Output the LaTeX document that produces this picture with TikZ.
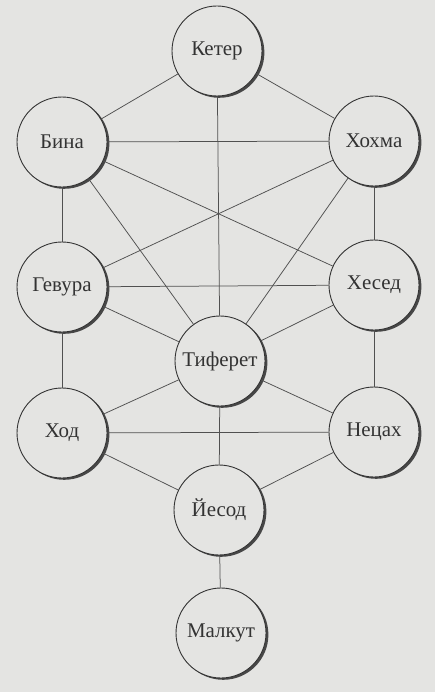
\documentclass[tikz,border=0pt]{standalone}
\usepackage{fontspec}
\setmainfont{Liberation Serif}
\definecolor{bg}{HTML}{E4E4E2}
\definecolor{ink}{HTML}{333333}
\definecolor{edgec}{HTML}{505050}
\tikzset{
  sef/.style={circle, draw=ink, line width=0.9bp, fill=bg, minimum size=90bp, inner sep=0pt, text=ink, font=\fontsize{21}{24}\selectfont},
  shade3d/.style={fill=ink!90},
  edge/.style={draw=edgec, line width=0.75bp}
}
\begin{document}
\begin{tikzpicture}[x=1bp,y=-1bp]
\fill[bg] (0,0) rectangle (435,692);
\useasboundingbox (0,0) rectangle (435,692);
\foreach \n/\x/\y/\t in {keter/217/51/Кетер, bina/62/142/Бина, hokhma/374/141/Хохма,
  gevura/62/287/Гевура, hesed/374/285/Хесед, tiferet/220/361/Тиферет,
  hod/62/433/Ход, netzah/374/432/Нецах, yesod/219/510/Йесод, malkut/221/633/Малкут}{
  \fill[shade3d] (\x+2.2,\y+1.6) circle[radius=45.2bp];
  \node[sef] (\n) at (\x,\y) {\t};
}
\draw[edge] (keter) -- (bina);
\draw[edge] (keter) -- (hokhma);
\draw[edge] (keter) -- (tiferet);
\draw[edge] (bina) -- (hokhma);
\draw[edge] (bina) -- (gevura);
\draw[edge] (hokhma) -- (hesed);
\draw[edge] (bina) -- (hesed);
\draw[edge] (hokhma) -- (gevura);
\draw[edge] (bina) -- (tiferet);
\draw[edge] (hokhma) -- (tiferet);
\draw[edge] (gevura) -- (hesed);
\draw[edge] (gevura) -- (tiferet);
\draw[edge] (hesed) -- (tiferet);
\draw[edge] (gevura) -- (hod);
\draw[edge] (hesed) -- (netzah);
\draw[edge] (tiferet) -- (hod);
\draw[edge] (tiferet) -- (netzah);
\draw[edge] (hod) -- (netzah);
\draw[edge] (tiferet) -- (yesod);
\draw[edge] (hod) -- (yesod);
\draw[edge] (netzah) -- (yesod);
\draw[edge] (yesod) -- (malkut);
\end{tikzpicture}
\end{document}
